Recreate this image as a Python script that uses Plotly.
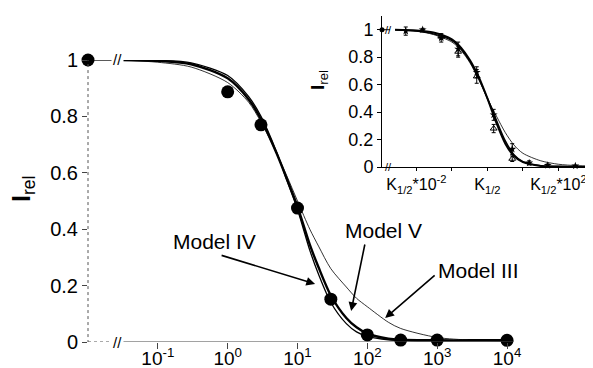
import plotly.graph_objects as go

# ---------------- main panel data ----------------
conc = [0, 1, 3, 10, 30, 100, 300, 1000, 10000]
irel = [1.0, 0.887, 0.77, 0.475, 0.152, 0.025, 0.007, 0.007, 0.006]

curve_x = [0.03, 0.1, 0.3, 1, 2, 3, 5, 7, 10, 15, 20, 30, 50, 70, 100, 200, 300, 1000, 3000, 10000]
model_iii = [1.0, 0.992, 0.975, 0.92, 0.85, 0.78, 0.67, 0.59, 0.50, 0.40, 0.34, 0.26, 0.195, 0.155, 0.125, 0.07, 0.048, 0.016, 0.007, 0.004]
model_iv = [1.0, 0.998, 0.99, 0.945, 0.87, 0.80, 0.675, 0.575, 0.47, 0.325, 0.24, 0.14, 0.065, 0.036, 0.02, 0.008, 0.006, 0.005, 0.005, 0.005]
model_v = [1.0, 0.997, 0.985, 0.935, 0.86, 0.79, 0.67, 0.58, 0.48, 0.345, 0.265, 0.165, 0.085, 0.052, 0.03, 0.012, 0.008, 0.006, 0.006, 0.006]

main_tickvals = [0.1, 1, 10, 100, 1000, 10000]
main_ticktext = ["10<sup>-1</sup>", "10<sup>0</sup>", "10<sup>1</sup>", "10<sup>2</sup>", "10<sup>3</sup>", "10<sup>4</sup>"]
y_ticks = [0, 0.2, 0.4, 0.6, 0.8, 1]
y_ticktext = ["0", "0.2", "0.4", "0.6", "0.8", "1"]

# ---------------- inset data ----------------
ins_curve_x = [0.0025, 0.01, 0.03, 0.1, 0.18, 0.32, 0.56, 1, 1.8, 3.2, 5.6, 10, 32, 100, 320, 900]
ins_thick_a = [1.0, 0.995, 0.98, 0.93, 0.87, 0.78, 0.66, 0.50, 0.32, 0.17, 0.08, 0.035, 0.008, 0.003, 0.002, 0.001]
ins_thick_b = [1.0, 0.99, 0.97, 0.92, 0.86, 0.77, 0.65, 0.50, 0.34, 0.19, 0.09, 0.04, 0.01, 0.004, 0.002, 0.001]
ins_thin = [1.0, 0.99, 0.965, 0.91, 0.85, 0.76, 0.64, 0.50, 0.37, 0.25, 0.16, 0.10, 0.045, 0.02, 0.01, 0.005]

ins_a_x = [0.005, 0.015, 0.05, 0.15, 0.5, 1.5, 5, 15, 50, 300]
ins_a_y = [0.99, 1.0, 0.94, 0.86, 0.69, 0.38, 0.13, 0.03, 0.012, 0.008]
ins_a_err = [0.03, 0.01, 0.03, 0.05, 0.04, 0.04, 0.04, 0.015, 0.01, 0.005]
ins_b_x = [0.05, 0.15, 0.5, 1.5, 5]
ins_b_y = [0.95, 0.84, 0.66, 0.28, 0.06]
ins_b_err = [0.02, 0.04, 0.05, 0.03, 0.02]

ins_tickvals = [0.01, 0.1, 1, 10, 100]
ins_ticktext = ["K<sub>1/2</sub>*10<sup>-2</sup>", "", "K<sub>1/2</sub>", "", "K<sub>1/2</sub>*10<sup>2</sup>"]

FONT = "Liberation Sans, Arial, sans-serif"
W, H = 593, 368
MAIN_XMIN = 0.01        # position where zero concentration is drawn
MAIN_LOG_RANGE = [-2, 4.1]
INS_LOG_RANGE = [-2.97, 3.2]
INS_XMIN = 10 ** INS_LOG_RANGE[0]

fig = go.Figure()

# main curves
fig.add_trace(go.Scatter(x=curve_x, y=model_iii, mode="lines", line=dict(color="black", width=0.8, shape="spline", smoothing=0.8), hoverinfo="skip"))
fig.add_trace(go.Scatter(x=curve_x, y=model_iv, mode="lines", line=dict(color="black", width=1.3, shape="spline", smoothing=0.8), hoverinfo="skip"))
fig.add_trace(go.Scatter(x=curve_x, y=model_v, mode="lines", line=dict(color="black", width=2.4, shape="spline", smoothing=0.8), hoverinfo="skip"))
# segment from zero-concentration point to the break
fig.add_trace(go.Scatter(x=[MAIN_XMIN, 0.024], y=[irel[0], irel[0]], mode="lines", line=dict(color="black", width=1.3), hoverinfo="skip"))
# data points
px = [c if c > 0 else MAIN_XMIN for c in conc]
fig.add_trace(go.Scatter(x=px, y=irel, mode="markers", marker=dict(color="black", size=13), cliponaxis=False, hoverinfo="skip"))

# inset curves
fig.add_trace(go.Scatter(x=ins_curve_x, y=ins_thin, xaxis="x2", yaxis="y2", mode="lines", line=dict(color="black", width=0.8, shape="spline", smoothing=0.8), hoverinfo="skip"))
fig.add_trace(go.Scatter(x=ins_curve_x, y=ins_thick_b, xaxis="x2", yaxis="y2", mode="lines", line=dict(color="black", width=1.4, shape="spline", smoothing=0.8), hoverinfo="skip"))
fig.add_trace(go.Scatter(x=ins_curve_x, y=ins_thick_a, xaxis="x2", yaxis="y2", mode="lines", line=dict(color="black", width=2.0, shape="spline", smoothing=0.8), hoverinfo="skip"))
fig.add_trace(go.Scatter(x=[INS_XMIN, 0.0018], y=[1, 1], xaxis="x2", yaxis="y2", mode="lines", line=dict(color="black", width=1), hoverinfo="skip"))
fig.add_trace(go.Scatter(x=[INS_XMIN], y=[1], xaxis="x2", yaxis="y2", mode="markers", marker=dict(color="black", size=5), cliponaxis=False, hoverinfo="skip"))
fig.add_trace(go.Scatter(x=ins_b_x, y=ins_b_y, xaxis="x2", yaxis="y2", mode="markers",
                         marker=dict(symbol="triangle-up-open", color="black", size=6, line=dict(width=1)),
                         error_y=dict(type="data", array=ins_b_err, color="black", thickness=1, width=2), hoverinfo="skip"))
fig.add_trace(go.Scatter(x=ins_a_x, y=ins_a_y, xaxis="x2", yaxis="y2", mode="markers",
                         marker=dict(symbol="star", color="black", size=6),
                         error_y=dict(type="data", array=ins_a_err, color="black", thickness=1, width=2), cliponaxis=False, hoverinfo="skip"))

main_xdom = [80 / W, 506 / W]
main_ydom = [1 - 334 / H, 1 - 52 / H]
ins_xdom = [374 / W, 1.0]
ins_ydom = [1 - 159 / H, 1 - 8 / H]

fig.update_layout(
    width=W, height=H,
    margin=dict(l=0, r=0, t=0, b=0),
    paper_bgcolor="white", plot_bgcolor="rgba(0,0,0,0)",
    showlegend=False,
    font=dict(family=FONT, color="black"),
    xaxis=dict(type="log", range=MAIN_LOG_RANGE, domain=main_xdom, showgrid=False, zeroline=False, showline=False,
               tickvals=main_tickvals, ticktext=main_ticktext, ticks="outside", ticklen=6, tickcolor="#444",
               ticklabelstandoff=-7,
               tickfont=dict(size=19, family=FONT), automargin=False, anchor="y"),
    yaxis=dict(range=[0, 1], domain=main_ydom, showgrid=False, zeroline=False, showline=False,
               tickvals=y_ticks, ticktext=y_ticktext, ticks="outside", ticklen=5, tickcolor="#444",
               tickfont=dict(size=20, family=FONT), automargin=False, anchor="x"),
    xaxis2=dict(type="log", range=INS_LOG_RANGE, domain=ins_xdom, showgrid=False, zeroline=False,
                showline=True, linecolor="black", linewidth=1,
                tickvals=ins_tickvals, ticktext=ins_ticktext, ticks="outside", ticklen=3, tickcolor="black",
                tickfont=dict(size=16, family=FONT), automargin=False, anchor="y2"),
    yaxis2=dict(range=[0, 1.1], domain=ins_ydom, showgrid=False, zeroline=False,
                showline=True, linecolor="black", linewidth=1,
                tickvals=y_ticks, ticktext=y_ticktext, ticks="outside", ticklen=4, tickcolor="black",
                tickfont=dict(size=18, family=FONT), automargin=False, anchor="x2"),
)

shapes = [
    # main y axis (dotted)
    dict(type="line", xref="x domain", yref="y", x0=0, x1=0, y0=-0.025, y1=1, line=dict(color="#555", width=1, dash="dot")),
    # main x axis: dotted before break, solid after
    dict(type="line", xref="x domain", yref="y", x0=0, x1=0.058, y0=0, y1=0, line=dict(color="#555", width=1, dash="dot")),
    dict(type="line", xref="x domain", yref="y", x0=0.078, x1=1, y0=0, y1=0, line=dict(color="#444", width=1)),
]
fig.update_layout(shapes=shapes)

ann = []
# axis break marks
for yy in (1, 0):
    ann.append(dict(x=-1.58, y=yy, xref="x", yref="y", text="//", showarrow=False, font=dict(size=15, family=FONT), bgcolor="white"))
for yy in (1, 0):
    ann.append(dict(x=-2.8, y=yy, xref="x2", yref="y2", text="//", showarrow=False, font=dict(size=11, family=FONT)))
# axis titles
ann.append(dict(x=15 / W, y=1 - 181 / H, xref="paper", yref="paper", text="<b>I</b><sub>rel</sub>", textangle=-90,
                xanchor="center", yanchor="middle", showarrow=False, font=dict(size=25, family=FONT)))
ann.append(dict(x=311 / W, y=1 - 72 / H, xref="paper", yref="paper", text="<b>I</b><sub>rel</sub>", textangle=-90,
                xanchor="center", yanchor="middle", showarrow=False, font=dict(size=19, family=FONT)))
# model labels
labels = [("Model IV", 206, 233), ("Model V", 375, 222), ("Model III", 470, 262)]
for t, lx, ly in labels:
    ann.append(dict(x=lx / W, y=1 - ly / H, xref="paper", yref="paper", text=t, showarrow=False,
                    xanchor="center", yanchor="middle", font=dict(size=21, family=FONT)))
# arrows (tip in data coords, tail offset in pixels)
arrows = [(1.252, 0.206, -95, -29), (1.768, 0.110, 14, -68), (2.255, 0.085, 51, -44)]
for ax_, ay_, dx, dy in arrows:
    ann.append(dict(x=ax_, y=ay_, xref="x", yref="y", ax=dx, ay=dy, text="", showarrow=True,
                    arrowhead=2, arrowsize=1.1, arrowwidth=1.6, arrowcolor="black", standoff=0))
fig.update_layout(annotations=ann)

fig.write_html("out.html")
